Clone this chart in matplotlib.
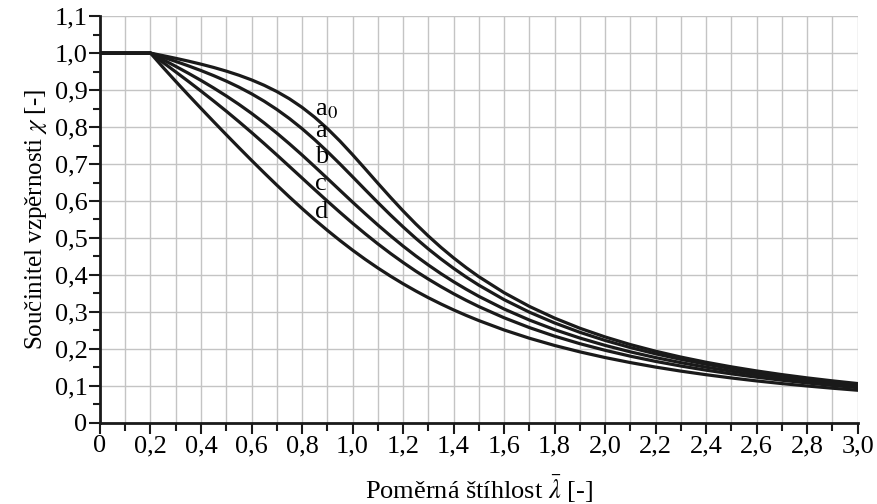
import matplotlib.pyplot as plt
from matplotlib.ticker import MultipleLocator, FuncFormatter

plt.rcParams['font.family'] = ['Liberation Serif', 'DejaVu Serif']
plt.rcParams['mathtext.fontset'] = 'stix'

# relative slenderness
lam = [0.0, 0.2, 0.25, 0.3, 0.35, 0.4, 0.45, 0.5, 0.55, 0.6, 0.65, 0.7, 0.75,
       0.8, 0.85, 0.9, 0.95, 1.0, 1.05, 1.1, 1.15, 1.2, 1.25, 1.3, 1.35, 1.4,
       1.45, 1.5, 1.6, 1.7, 1.8, 1.9, 2.0, 2.1, 2.2, 2.3, 2.4, 2.5, 2.6, 2.7,
       2.8, 2.9, 3.0]

# reduction factor chi for each buckling curve
chi_a0 = [1.0, 1.0, 0.9931, 0.9859, 0.9783, 0.9701, 0.9612, 0.9513, 0.9402,
          0.9276, 0.9130, 0.8961, 0.8764, 0.8533, 0.8266, 0.7961, 0.7621,
          0.7253, 0.6870, 0.6482, 0.6101, 0.5732, 0.5382, 0.5053, 0.4746,
          0.4461, 0.4197, 0.3953, 0.3520, 0.3150, 0.2833, 0.2559, 0.2323,
          0.2117, 0.1937, 0.1779, 0.1639, 0.1515, 0.1404, 0.1305, 0.1216,
          0.1136, 0.1063]
chi_a = [1.0, 1.0, 0.9889, 0.9775, 0.9655, 0.9528, 0.9391, 0.9243, 0.9080,
         0.8900, 0.8700, 0.8477, 0.8230, 0.7957, 0.7659, 0.7339, 0.7003,
         0.6656, 0.6306, 0.5960, 0.5623, 0.5300, 0.4993, 0.4703, 0.4432,
         0.4179, 0.3943, 0.3724, 0.3332, 0.2994, 0.2702, 0.2449, 0.2229,
         0.2036, 0.1867, 0.1717, 0.1585, 0.1467, 0.1362, 0.1267, 0.1182,
         0.1105, 0.1036]
chi_b = [1.0, 1.0, 0.9822, 0.9641, 0.9455, 0.9261, 0.9057, 0.8842, 0.8614,
         0.8371, 0.8112, 0.7837, 0.7547, 0.7245, 0.6931, 0.6612, 0.6290,
         0.5970, 0.5657, 0.5352, 0.5060, 0.4781, 0.4517, 0.4269, 0.4035,
         0.3817, 0.3613, 0.3422, 0.3079, 0.2781, 0.2521, 0.2294, 0.2095,
         0.1920, 0.1765, 0.1628, 0.1506, 0.1397, 0.1299, 0.1211, 0.1132,
         0.1060, 0.0994]
chi_c = [1.0, 1.0, 0.9746, 0.9491, 0.9235, 0.8973, 0.8705, 0.8430, 0.8146,
         0.7854, 0.7554, 0.7247, 0.6935, 0.6622, 0.6308, 0.5998, 0.5695,
         0.5399, 0.5115, 0.4842, 0.4583, 0.4338, 0.4105, 0.3888, 0.3684,
         0.3492, 0.3313, 0.3145, 0.2842, 0.2577, 0.2345, 0.2141, 0.1962,
         0.1803, 0.1662, 0.1537, 0.1425, 0.1325, 0.1234, 0.1153, 0.1079,
         0.1012, 0.0951]
chi_d = [1.0, 1.0, 0.9611, 0.9235, 0.8866, 0.8504, 0.8146, 0.7793, 0.7444,
         0.7100, 0.6762, 0.6431, 0.6109, 0.5797, 0.5496, 0.5208, 0.4933,
         0.4671, 0.4423, 0.4189, 0.3969, 0.3762, 0.3568, 0.3385, 0.3215,
         0.3055, 0.2906, 0.2766, 0.2512, 0.2289, 0.2093, 0.1920, 0.1766,
         0.1630, 0.1508, 0.1399, 0.1302, 0.1214, 0.1134, 0.1062, 0.0997,
         0.0937, 0.0882]

curves = [chi_a0, chi_a, chi_b, chi_c, chi_d]
curve_labels = ['a$_0$', 'a', 'b', 'c', 'd']
label_y = [0.846, 0.79, 0.72, 0.646, 0.57]

fig = plt.figure(figsize=(8.77, 5.04), dpi=100)
ax = fig.add_axes([0.114, 0.161, 0.864, 0.807])

for chi in curves:
    ax.plot(lam, chi, color='#1a1a1a', lw=2.3, solid_joinstyle='round', zorder=3)

for txt, y in zip(curve_labels, label_y):
    ax.text(0.852, y, txt, fontsize=19, va='center', ha='left', zorder=4)

ax.set_xlim(0, 3.0)
ax.set_ylim(0, 1.1)
ax.xaxis.set_major_locator(MultipleLocator(0.2))
ax.xaxis.set_minor_locator(MultipleLocator(0.1))
ax.yaxis.set_major_locator(MultipleLocator(0.1))
ax.yaxis.set_minor_locator(MultipleLocator(0.05))

def fmt(v, pos):
    if abs(v) < 1e-9:
        return '0'
    return f'{v:.1f}'.replace('.', ',')

ax.xaxis.set_major_formatter(FuncFormatter(fmt))
ax.yaxis.set_major_formatter(FuncFormatter(fmt))

ax.grid(which='major', color='#c4c4c4', lw=1.0, zorder=0)
ax.grid(which='minor', axis='x', color='#c4c4c4', lw=1.0, zorder=0)
ax.set_axisbelow(True)

for s in ['top', 'right']:
    ax.spines[s].set_visible(False)
for s in ['left', 'bottom']:
    ax.spines[s].set_linewidth(2.0)
    ax.spines[s].set_color('#1a1a1a')

ax.tick_params(which='major', direction='out', length=8, width=1.5,
               labelsize=19, pad=1, color='#1a1a1a')
ax.tick_params(which='minor', direction='out', length=5, width=1.5, color='#1a1a1a')
ax.tick_params(axis='x', which='minor', length=6)

ax.set_xlabel(r'Poměrná štíhlost $\bar{\lambda}$ [-]', fontsize=19, labelpad=12)
ax.set_ylabel(r'Součinitel vzpěrnosti $\chi$ [-]', fontsize=18, labelpad=4)

fig.savefig('out.png', dpi=100)
